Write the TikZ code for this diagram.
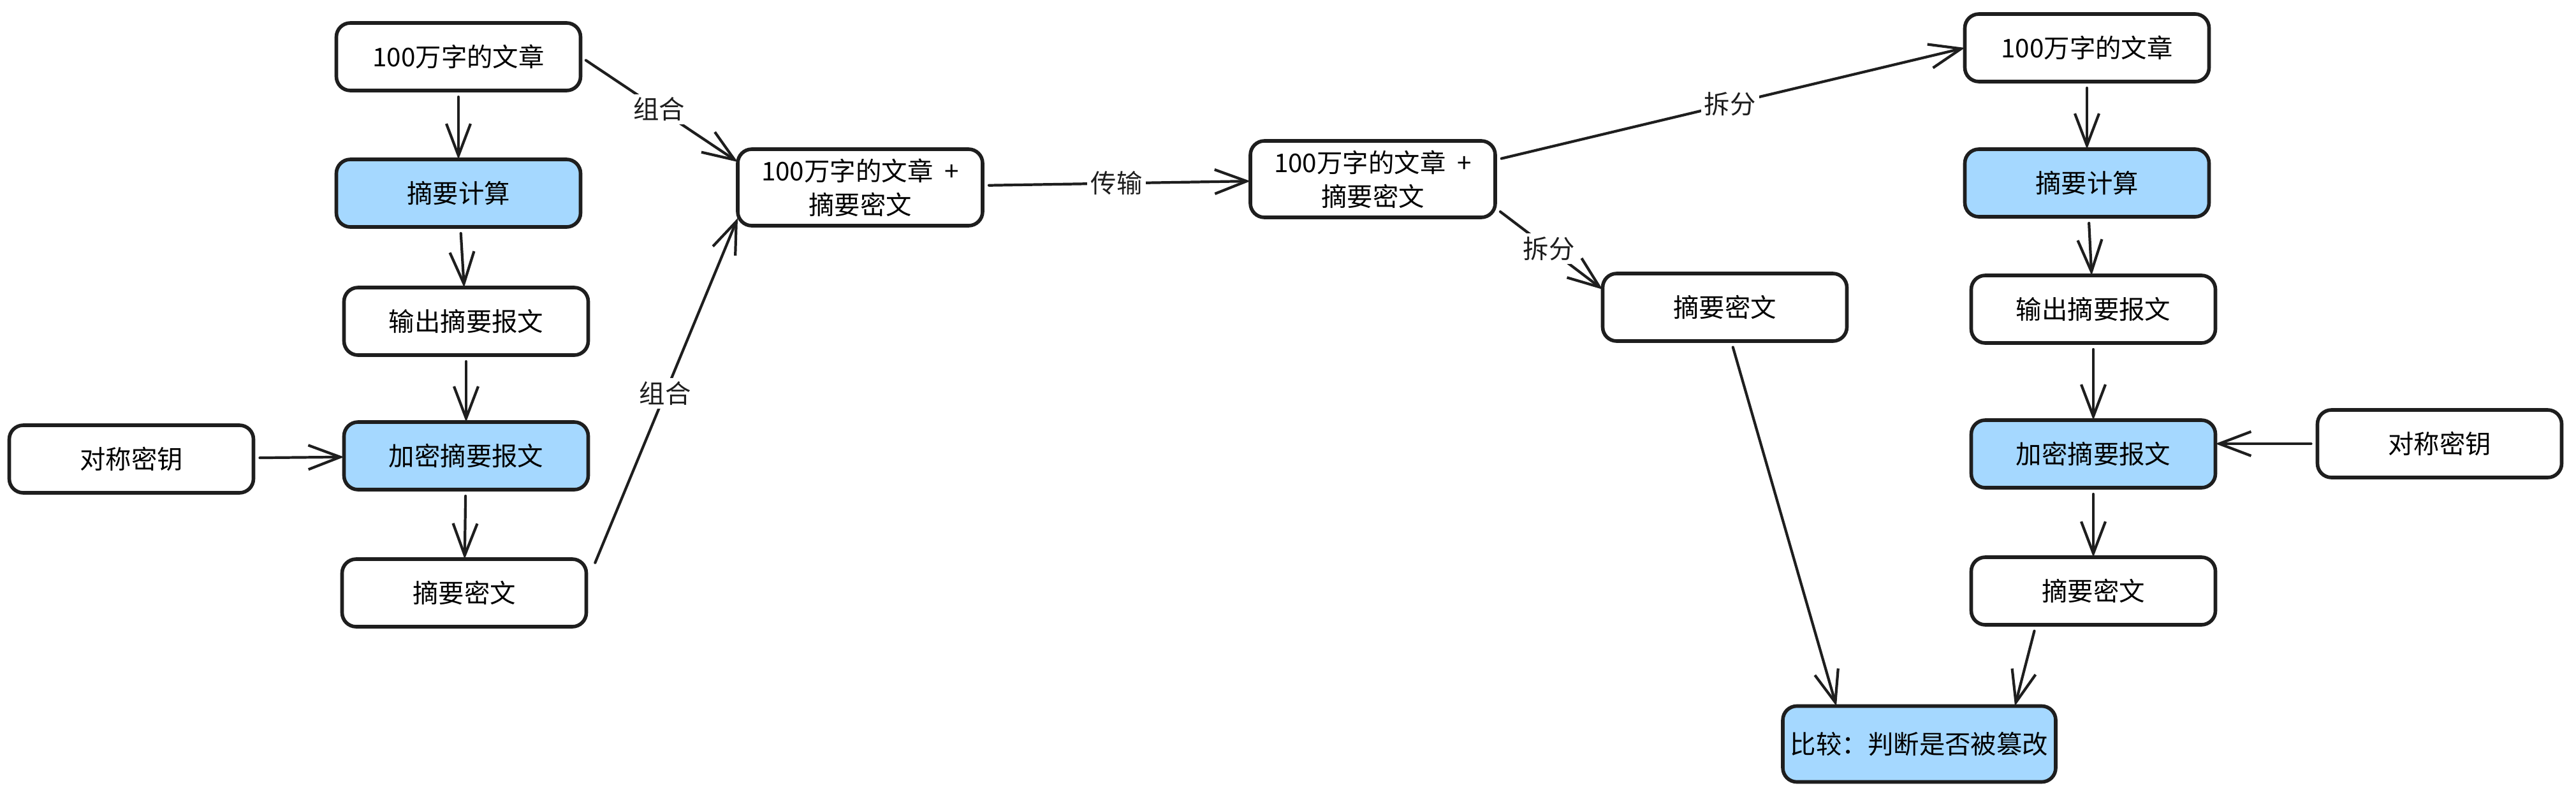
\documentclass[tikz,border=0pt]{standalone}
\usepackage{fontspec}
\setmainfont{Noto Sans CJK SC}
\usepackage{xcolor}
\usepackage{tikz}
\usetikzlibrary{positioning,arrows.meta}
\definecolor{ink}{HTML}{1E1E1E}
\definecolor{hilite}{HTML}{A5D8FF}
\tikzset{
    flowstep/.style={
        draw=ink, fill=white, line width=1.6pt, rounded corners=2.2mm,
        minimum width=3.83cm, minimum height=1.06cm, outer sep=0pt,
        font=\fontsize{11.5}{15}\selectfont, align=center
    },
    flowstephi/.style={
        flowstep, fill=hilite
    },
    mergebox/.style={
        flowstep, minimum width=3.84cm, minimum height=1.2cm
    },
    edgelabel/.style={
        fill=white, inner sep=1.5pt, font=\fontsize{11.5}{14}\selectfont
    },
    arrow/.style={-{Straight Barb[length=5mm,width=3.8mm]}, line width=1.2pt,
        line cap=round, color=ink, shorten <=1mm},
}
\begin{document}
\begin{tikzpicture}[
        node distance=1.04cm and 1.42cm,
    ]
    \useasboundingbox (0,0) rectangle (40.40,-12.47);
    % sender side
    \node[flowstep] (a1) at (7.19,-0.89) {100万字的文章};
    \node[flowstephi, below=1.08cm of a1] (a2) {摘要计算};
    \node[flowstep, below=0.95cm of a2, xshift=1.2mm] (a3) {输出摘要报文};
    \node[flowstephi, below=1.05cm of a3] (a4) {加密摘要报文};
    \node[flowstep, below=1.09cm of a4, xshift=-0.3mm] (a5) {摘要密文};
    \node[flowstep, left=of a4, yshift=-0.5mm] (k1) {对称密钥};
    % packed message
    \node[mergebox] (m1) at (13.49,-2.94) {100万字的文章 \ +\\摘要密文};
    \node[mergebox, right=4.2cm of m1, yshift=1.3mm] (m2) {100万字的文章 \ +\\摘要密文};
    % receiver side
    \node[flowstep] (r1) at (32.73,-0.75) {100万字的文章};
    \node[flowstephi, below=1.06cm of r1] (r2) {摘要计算};
    \node[flowstep, below=0.92cm of r2, xshift=1mm] (r3) {输出摘要报文};
    \node[flowstephi, below=1.21cm of r3] (r4) {加密摘要报文};
    \node[flowstep, below=1.09cm of r4] (r5) {摘要密文};
    \node[flowstep, right=1.6cm of r4, yshift=1.6mm] (k2) {对称密钥};
    \node[flowstep] (s) at (27.05,-4.82) {摘要密文};
    \node[flowstephi, minimum width=4.28cm, minimum height=1.19cm, inner xsep=2pt] (c) at (30.10,-11.67) {比较：判断是否被篡改};
    % connectors
    \draw[arrow] (a1) -- (a2);
    \draw[arrow] (a2) -- (a3);
    \draw[arrow] (a3) -- (a4);
    \draw[arrow] (a4) -- (a5);
    \draw[arrow] (k1) -- (a4);
    \draw[arrow] (a1.east) -- node[edgelabel] {组合} ([yshift=-2mm]m1.north west);
    \draw[arrow] ([xshift=1mm,yshift=-1.5mm]a5.north east) -- node[edgelabel] {组合} ([yshift=1.2mm]m1.south west);
    \draw[arrow] (m1) -- node[edgelabel] {传输} (m2);
    \draw[arrow] ([yshift=-3mm]m2.north east) -- node[edgelabel] {拆分} (r1.west);
    \draw[arrow] ([yshift=1.5mm]m2.south east) -- node[edgelabel] {拆分} ([yshift=-2.5mm]s.north west);
    \draw[arrow] (r1) -- (r2);
    \draw[arrow] (r2) -- (r3);
    \draw[arrow] (r3) -- (r4);
    \draw[arrow] (r4) -- (r5);
    \draw[arrow] (k2.west) -- (k2.west -| r4.east);
    \draw[arrow] ([xshift=1mm]s.south) -- ([xshift=-13mm]c.north);
    \draw[arrow] ([xshift=-9mm]r5.south) -- ([xshift=15mm]c.north);
\end{tikzpicture}
\end{document}
